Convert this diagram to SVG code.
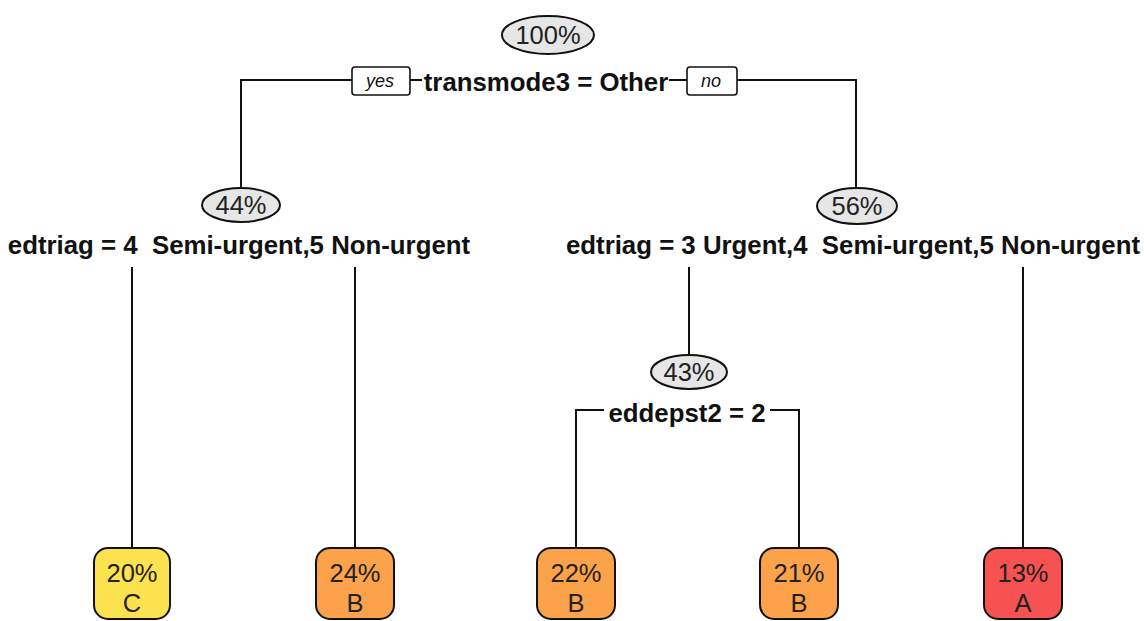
<svg xmlns="http://www.w3.org/2000/svg" width="1144" height="621" viewBox="0 0 1144 621">
<style>
.bg{fill:#ffffff}
.edge{fill:none;stroke:#111;stroke-width:2}
.split{fill:#e6e6e6;stroke:#111;stroke-width:2}
.lab{font-family:"Liberation Sans",Arial,sans-serif;font-size:25.5px;fill:#222;text-anchor:middle}
.cond{font-family:"Liberation Sans",Arial,sans-serif;font-size:25.8px;font-weight:bold;fill:#111;text-anchor:middle;white-space:pre}
.yn{fill:#fff;stroke:#111;stroke-width:1.6}
.ynt{font-family:"Liberation Sans",Arial,sans-serif;font-size:18px;font-style:italic;fill:#111;text-anchor:middle}
.leaf{stroke:#111;stroke-width:2}
.C{fill:#fde24f}
.B{fill:#fba24b}
.A{fill:#f65252}
</style>
<rect class="bg" x="0" y="0" width="1144" height="621"/>
<g id="connectors">
<polyline class="edge" points="352,80 241,80 241,188"/>
<line class="edge" x1="410" y1="80" x2="422" y2="80"/>
<line class="edge" x1="669" y1="80" x2="687" y2="80"/>
<polyline class="edge" points="737,80 856,80 856,189"/>
<line class="edge" x1="132" y1="267" x2="132" y2="548"/>
<line class="edge" x1="355" y1="267" x2="355" y2="548"/>
<line class="edge" x1="689" y1="267" x2="689" y2="355"/>
<line class="edge" x1="1023" y1="267" x2="1023" y2="548"/>
<polyline class="edge" points="604,410 576,410 576,548"/>
<polyline class="edge" points="770,410 799,410 799,548"/>
</g>
<g id="node1">
<ellipse class="split" cx="548" cy="35" rx="46" ry="19"/>
<text class="lab" x="548" y="44">100%</text>
<text class="cond" x="546" y="91">transmode3 = Other</text>
</g>
<g id="yes-label">
<rect class="yn" x="352" y="67" width="58" height="28" rx="3"/>
<text class="ynt" x="380" y="87">yes</text>
</g>
<g id="no-label">
<rect class="yn" x="687" y="67" width="50" height="28" rx="3"/>
<text class="ynt" x="711" y="87">no</text>
</g>
<g id="node2">
<ellipse class="split" cx="241" cy="205" rx="39" ry="17"/>
<text class="lab" x="241" y="214">44%</text>
<text class="cond" x="239" y="254" xml:space="preserve">edtriag = 4  Semi-urgent,5 Non-urgent</text>
</g>
<g id="node3">
<ellipse class="split" cx="857" cy="206" rx="40" ry="18"/>
<text class="lab" x="857" y="215">56%</text>
<text class="cond" x="853" y="254" xml:space="preserve">edtriag = 3 Urgent,4  Semi-urgent,5 Non-urgent</text>
</g>
<g id="node7">
<ellipse class="split" cx="689" cy="372" rx="38" ry="17"/>
<text class="lab" x="689" y="381">43%</text>
<text class="cond" x="687" y="422">eddepst2 = 2</text>
</g>
<g id="leaf-C">
<rect class="leaf C" x="94" y="548" width="76" height="71" rx="14"/>
<text class="lab" x="132" y="582">20%</text>
<text class="lab" x="132" y="612">C</text>
</g>
<g id="leaf-B1">
<rect class="leaf B" x="316" y="548" width="78" height="71" rx="14"/>
<text class="lab" x="355" y="582">24%</text>
<text class="lab" x="355" y="612">B</text>
</g>
<g id="leaf-B2">
<rect class="leaf B" x="537" y="548" width="78" height="71" rx="14"/>
<text class="lab" x="576" y="582">22%</text>
<text class="lab" x="576" y="612">B</text>
</g>
<g id="leaf-B3">
<rect class="leaf B" x="760" y="548" width="78" height="71" rx="14"/>
<text class="lab" x="799" y="582">21%</text>
<text class="lab" x="799" y="612">B</text>
</g>
<g id="leaf-A">
<rect class="leaf A" x="984" y="548" width="78" height="71" rx="14"/>
<text class="lab" x="1023" y="582">13%</text>
<text class="lab" x="1023" y="612">A</text>
</g>
</svg>
